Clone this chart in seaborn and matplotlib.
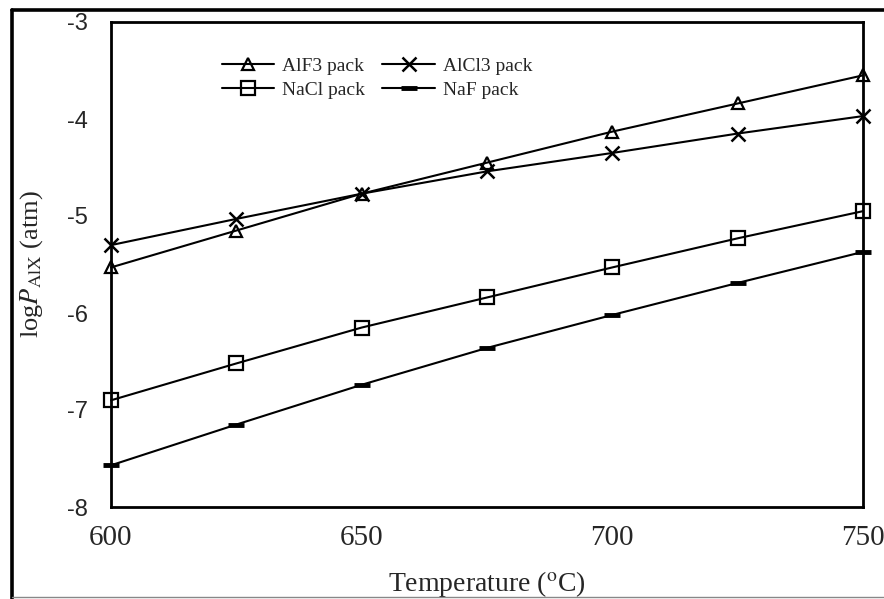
import matplotlib
matplotlib.use("Agg")
import matplotlib.pyplot as plt
import seaborn as sns
import pandas as pd
from matplotlib.lines import Line2D

temperature = [600, 625, 650, 675, 700, 725, 750]
alf3 = [-5.53, -5.15, -4.77, -4.45, -4.13, -3.84, -3.55]
alcl3 = [-5.30, -5.03, -4.77, -4.54, -4.35, -4.15, -3.97]
nacl = [-6.90, -6.52, -6.15, -5.84, -5.53, -5.23, -4.95]
naf = [-7.57, -7.15, -6.74, -6.36, -6.02, -5.69, -5.37]
series_names = ["AlF3 pack", "AlCl3 pack", "NaCl pack", "NaF pack"]
x_ticks = [600, 650, 700, 750]
y_ticks = [-8, -7, -6, -5, -4, -3]

sns.set_theme(style="white")
plt.rcParams["font.family"] = ["Liberation Serif", "DejaVu Serif"]
plt.rcParams["mathtext.fontset"] = "stix"

fig = plt.figure(figsize=(8.84, 5.99), dpi=100)
ax = fig.add_axes([111 / 884, 1 - 507 / 599, (863 - 111) / 884, (507 - 22) / 599])

styles = {
    "AlF3 pack": dict(marker="^", markersize=9, mfc="none", mec="black", mew=1.6),
    "AlCl3 pack": dict(marker="x", markersize=10, mec="black", mew=1.8),
    "NaCl pack": dict(marker="s", markersize=10, mfc="none", mec="black", mew=1.6),
    "NaF pack": dict(marker="_", markersize=11, mec="black", mew=3.5),
}
values = {"AlF3 pack": alf3, "AlCl3 pack": alcl3, "NaCl pack": nacl, "NaF pack": naf}

for name in series_names:
    df = pd.DataFrame({"T": temperature, "logP": values[name]})
    sns.lineplot(data=df, x="T", y="logP", ax=ax, color="black", linewidth=1.5,
                 label=name, clip_on=False, **styles[name])

ax.set_xlim(600, 750)
ax.set_ylim(-8, -3)
ax.set_xticks(x_ticks)
ax.set_yticks(y_ticks)
ax.set_xticklabels([str(v) for v in x_ticks], fontsize=21, family="Liberation Serif")
ax.set_yticklabels([str(v) for v in y_ticks], fontsize=17, family="Liberation Sans")
ax.tick_params(axis="x", direction="in", length=7, width=1.5, color="black", pad=13)
ax.tick_params(axis="y", length=0, pad=16.5)
for s in ax.spines.values():
    s.set_color("black")
    s.set_linewidth(2.0)

ax.set_xlabel("Temperature ($^{\\rm o}$C)", fontsize=20)
ax.set_ylabel("log$\\it{P}$$_{\\rm AlX}$ (atm)", fontsize=19)
ax.yaxis.set_label_coords(-0.088, 0.5)
ax.xaxis.set_label_coords(0.5, -0.128)

handles, labels = ax.get_legend_handles_labels()
order = [0, 2, 1, 3]
leg = ax.legend([handles[i] for i in order], [labels[i] for i in order],
                ncol=2, loc="upper left", bbox_to_anchor=(208 / 884, 1 - 44 / 599),
                bbox_transform=fig.transFigure, frameon=False, fontsize=14,
                handlelength=2.7, columnspacing=0.9, handletextpad=0.4,
                labelspacing=0.3, borderpad=0.2)

# outer frame
fig.add_artist(Line2D([12 / 884, 12 / 884], [0, 1 - 10 / 599], transform=fig.transFigure,
                      color="black", linewidth=2.6))
fig.add_artist(Line2D([12 / 884, 1], [1 - 10 / 599, 1 - 10 / 599], transform=fig.transFigure,
                      color="black", linewidth=2.6))
fig.add_artist(Line2D([12 / 884, 1], [2 / 599, 2 / 599], transform=fig.transFigure,
                      color="#888888", linewidth=1.0))

fig.savefig("out.png", dpi=100)
